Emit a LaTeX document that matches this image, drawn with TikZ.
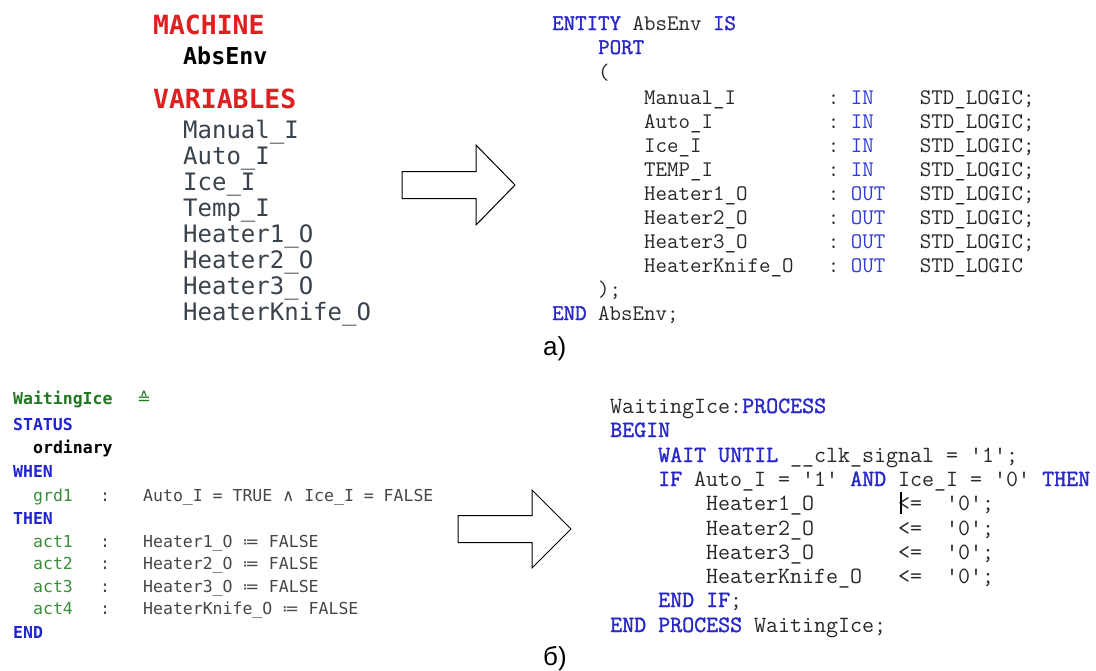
\documentclass[tikz,border=0pt]{standalone}
\usepackage{fontspec}
\usepackage{xcolor}
\setmainfont{Liberation Sans}
\newfontfamily\rodinmono{DejaVu Sans Mono}
\newfontfamily\rodinsans{DejaVu Sans}
\newfontfamily\vhdlfont{Latin Modern Mono}[BoldFont={Latin Modern Mono}, BoldFeatures={FakeBold=1.5}]
\frenchspacing

\definecolor{rodinred}{RGB}{222,32,32}
\definecolor{rodinvar}{RGB}{58,66,76}
\definecolor{rodinblue}{RGB}{32,36,210}
\definecolor{rodingreen}{RGB}{30,120,30}
\definecolor{rodinlabel}{RGB}{60,140,60}
\definecolor{rodintext}{RGB}{70,70,70}
\definecolor{vhdlblue}{RGB}{40,40,200}
\definecolor{vhdlmode}{RGB}{50,60,220}
\definecolor{vhdltext}{RGB}{40,40,40}

\def\q{\textquotesingle}
\def\vkw#1{\textcolor{vhdlblue}{\bfseries #1}}
\def\vmode#1{\textcolor{vhdlmode}{#1}}
\def\symb#1{{\rodinsans #1}}
\def\padto#1#2{\makebox[#1\fontcharwd\font`M][l]{#2}}

\tikzset{
  txt/.style={anchor=base west, inner sep=0pt},
  vhdlA/.style={txt, font=\vhdlfont\fontsize{22.3}{22.3}\selectfont, text=vhdltext},
  vhdlB/.style={txt, font=\vhdlfont\fontsize{23.3}{23.3}\selectfont, text=vhdltext},
  rodinhead/.style={txt, font=\rodinmono\bfseries\fontsize{26.4}{26.4}\selectfont, text=rodinred},
  rodinvars/.style={txt, font=\rodinmono\fontsize{24}{24}\selectfont, text=rodinvar},
  rodin/.style={txt, font=\rodinmono\fontsize{16.5}{16.5}\selectfont, text=rodintext},
  rodinkw/.style={rodin, font=\rodinmono\bfseries\fontsize{16.5}{16.5}\selectfont, text=rodinblue},
  rodinlbl/.style={rodin, text=rodinlabel},
  sublabel/.style={txt, font=\fontsize{26}{26}\selectfont, text=black},
  bigarrow/.style={draw=black, line width=1pt, fill=white, line join=miter},
}

\begin{document}
\begin{tikzpicture}[x=1pt, y=-1pt]
		%%%%% START %%%%%
		\useasboundingbox (0, 0) rectangle (1096, 670);
		\fill[white] (0, 0) rectangle (1096, 670);
		
		% machine (top left)
		\node[rodinhead] (machine) at (153, 34) {MACHINE};
		\node[rodinhead, text=black, font=\rodinmono\bfseries\fontsize{23.3}{23.3}\selectfont] (absenv) at (183, 64) {AbsEnv};
		\node[rodinhead] (variables) at (153, 108) {VARIABLES};
		\node[rodinvars] (var1) at (183, 138) {Manual\_I};
		\node[rodinvars] (var2) at (183, 164) {Auto\_I};
		\node[rodinvars] (var3) at (183, 190) {Ice\_I};
		\node[rodinvars] (var4) at (183, 216) {Temp\_I};
		\node[rodinvars] (var5) at (183, 242) {Heater1\_O};
		\node[rodinvars] (var6) at (183, 268) {Heater2\_O};
		\node[rodinvars] (var7) at (183, 294) {Heater3\_O};
		\node[rodinvars] (var8) at (183, 320) {HeaterKnife\_O};
		
		\draw[bigarrow] (402, 171.5) -- (476, 171.5) -- (476, 145) -- (515, 185) -- (476, 225) -- (476, 198.5) -- (402, 198.5) -- cycle;
		
		% entity (top right)
		\node[vhdlA] (entity) at (552, 30) {\vkw{ENTITY} AbsEnv \vkw{IS}};
		\node[vhdlA] (port) at (598, 54) {\vkw{PORT}};
		\node[vhdlA] (popen) at (598, 79) {(};
		\node[vhdlA] (p1) at (644, 104) {\padto{16}{Manual\_I}:~\padto{6}{\vmode{IN}}STD\_LOGIC;};
		\node[vhdlA] (p2) at (644, 128) {\padto{16}{Auto\_I}:~\padto{6}{\vmode{IN}}STD\_LOGIC;};
		\node[vhdlA] (p3) at (644, 152) {\padto{16}{Ice\_I}:~\padto{6}{\vmode{IN}}STD\_LOGIC;};
		\node[vhdlA] (p4) at (644, 176) {\padto{16}{TEMP\_I}:~\padto{6}{\vmode{IN}}STD\_LOGIC;};
		\node[vhdlA] (p5) at (644, 200) {\padto{16}{Heater1\_O}:~\padto{6}{\vmode{OUT}}STD\_LOGIC;};
		\node[vhdlA] (p6) at (644, 224) {\padto{16}{Heater2\_O}:~\padto{6}{\vmode{OUT}}STD\_LOGIC;};
		\node[vhdlA] (p7) at (644, 248) {\padto{16}{Heater3\_O}:~\padto{6}{\vmode{OUT}}STD\_LOGIC;};
		\node[vhdlA] (p8) at (644, 272) {\padto{16}{HeaterKnife\_O}:~\padto{6}{\vmode{OUT}}STD\_LOGIC};
		\node[vhdlA] (pclose) at (598, 296) {);};
		\node[vhdlA] (entend) at (552, 320) {\vkw{END} AbsEnv;};
		
		\node[sublabel] (laba) at (543, 355) {а)};
		
		% event (bottom left)
		\node[rodinkw, text=rodingreen] (evname) at (13, 404) {WaitingIce};
		\node[rodin, text=rodingreen] (evdef) at (137, 404) {\symb{≙}};
		\node[rodinkw] (status) at (13, 430) {STATUS};
		\node[rodinkw, text=black] (ordinary) at (33, 453) {ordinary};
		\node[rodinkw] (when) at (13, 477) {WHEN};
		\node[rodinlbl] (grd) at (33, 501) {grd1};
		\node[rodin] (grdc) at (100, 501) {:};
		\node[rodin] (grdx) at (143, 501) {Auto\_I = TRUE \symb{∧} Ice\_I = FALSE};
		\node[rodinkw] (then) at (13, 524) {THEN};
		\node[rodinlbl] (act1) at (33, 547) {act1};
		\node[rodin] (act1c) at (100, 547) {:};
		\node[rodin] (act1x) at (143, 547) {Heater1\_O \symb{≔} FALSE};
		\node[rodinlbl] (act2) at (33, 569.5) {act2};
		\node[rodin] (act2c) at (100, 569.5) {:};
		\node[rodin] (act2x) at (143, 569.5) {Heater2\_O \symb{≔} FALSE};
		\node[rodinlbl] (act3) at (33, 592) {act3};
		\node[rodin] (act3c) at (100, 592) {:};
		\node[rodin] (act3x) at (143, 592) {Heater3\_O \symb{≔} FALSE};
		\node[rodinlbl] (act4) at (33, 614) {act4};
		\node[rodin] (act4c) at (100, 614) {:};
		\node[rodin] (act4x) at (143, 614) {HeaterKnife\_O \symb{≔} FALSE};
		\node[rodinkw] (evend) at (13, 638) {END};
		
		\draw[bigarrow] (458, 515.5) -- (532, 515.5) -- (532, 490) -- (571, 529) -- (532, 568) -- (532, 542.5) -- (458, 542.5) -- cycle;
		
		% process (bottom right)
		\node[vhdlB] (proc) at (610, 413) {WaitingIce:\vkw{PROCESS}};
		\node[vhdlB] (begin) at (610, 437) {\vkw{BEGIN}};
		\node[vhdlB] (wait) at (658, 462) {\vkw{WAIT UNTIL} \_\_clk\_signal = \q1\q;};
		\node[vhdlB] (ifline) at (658, 486) {\vkw{IF} Auto\_I = \q1\q{} \vkw{AND} Ice\_I = \q0\q{} \vkw{THEN}};
		\node[vhdlB] (s1) at (706, 510) {\padto{16}{Heater1\_O}<=~~\q0\q;};
		\node[vhdlB] (s2) at (706, 535) {\padto{16}{Heater2\_O}<=~~\q0\q;};
		\node[vhdlB] (s3) at (706, 559) {\padto{16}{Heater3\_O}<=~~\q0\q;};
		\node[vhdlB] (s4) at (706, 583) {\padto{16}{HeaterKnife\_O}<=~~\q0\q;};
		\node[vhdlB] (endif) at (658, 607) {\vkw{END IF};};
		\node[vhdlB] (procend) at (610, 632) {\vkw{END PROCESS} WaitingIce;};
		\draw[line width=1.6] (901, 492) -- (901, 514);
		
		\node[sublabel] (labb) at (543, 665) {б)};
		
		%%%%% END %%%%%
\end{tikzpicture}
\end{document}
